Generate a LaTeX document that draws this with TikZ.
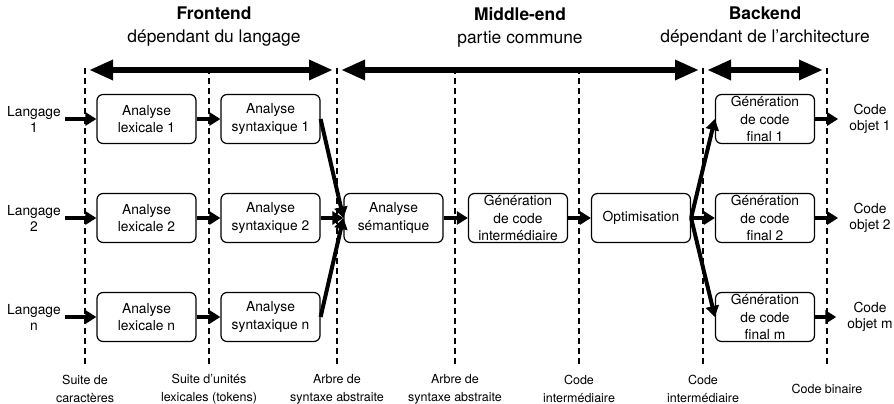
\documentclass[tikz,border=0pt]{standalone}
\usepackage{fontspec}
\setmainfont{TeX Gyre Heros}
\usetikzlibrary{positioning,arrows.meta}
\tikzset{
    stage/.style={
        draw,
        line width=1.2pt,
        rounded corners=6pt,
        align=center,
        font=\fontsize{13.8}{17.5}\selectfont,
        inner sep=0pt,
        minimum width=99pt,
        minimum height=49pt
    },
    phasetitle/.style={
        align=center,
        font=\fontsize{17.4}{23}\selectfont
    },
    inlabel/.style={
        align=center,
        font=\fontsize{13.8}{16}\selectfont,
        inner sep=4pt
    },
    outlabel/.style={
        align=center,
        font=\fontsize{13.8}{16}\selectfont,
        inner xsep=11pt
    },
    datalabel/.style={
        align=center,
        font=\fontsize{12.5}{18}\selectfont
    },
    separator/.style={
        dash pattern=on 6pt off 4pt,
        line width=1.2pt
    },
    flow/.style={
        line width=4pt,
        -{Triangle[length=11pt,width=13pt]}
    },
    phase/.style={
        line width=6pt,
        {Triangle[length=24pt,width=19pt]}-{Triangle[length=24pt,width=19pt]},
        shorten <=4pt,
        shorten >=4pt
    }
}

\begin{document}
\begin{tikzpicture}[x=1pt,y=-1pt]

\useasboundingbox (0,0) rectangle (894,404);

% Phase titles
\node[phasetitle] (fronttitle) at (214,27)
{\textbf{Frontend}\\dépendant du langage};

\node[phasetitle] (middletitle) at (520,27)
{\textbf{Middle-end}\\partie commune};

\node[phasetitle] (backtitle) at (765,27)
{\textbf{Backend}\\dépendant de l’architecture};

% Separators
\coordinate (sepA top) at (85,68);
\coordinate (sepA bot) at (85,366);
\coordinate (sepB top) at (209,68);
\coordinate (sepB bot) at (209,366);
\coordinate (sepC top) at (337,68);
\coordinate (sepC bot) at (337,366);
\coordinate (sepD top) at (455,68);
\coordinate (sepD bot) at (455,366);
\coordinate (sepE top) at (579,68);
\coordinate (sepE bot) at (579,366);
\coordinate (sepF top) at (703,68);
\coordinate (sepF bot) at (703,366);
\coordinate (sepG top) at (827,68);
\coordinate (sepG bot) at (827,366);

\draw[separator] (sepA top) -- (sepA bot);
\draw[separator] (sepB top) -- (sepB bot);
\draw[separator] (sepC top) -- (sepC bot);
\draw[separator] (sepD top) -- (sepD bot);
\draw[separator] (sepE top) -- (sepE bot);
\draw[separator] (sepF top) -- (sepF bot);
\draw[separator] (sepG top) -- (sepG bot);

\draw[phase] ([yshift=-2pt]sepA top) -- ([yshift=-2pt]sepC top);
\draw[phase] ([yshift=-2pt]sepC top) -- ([yshift=-2pt]sepF top);
\draw[phase] ([yshift=-2pt]sepF top) -- ([yshift=-2pt]sepG top);


% ------------------------------------------------------------
% Frontend
% ------------------------------------------------------------

\node[inlabel] (lang1) at (34,119) {Langage\\1};
\node[inlabel] (lang2) at (34,218) {Langage\\2};
\node[inlabel] (langn) at (34,317) {Langage\\n};

\node[stage] (lex1) at (146.5,119) {Analyse\\lexicale 1};
\node[stage] (lex2) at (146.5,218) {Analyse\\lexicale 2};
\node[stage] (lexn) at (146.5,317) {Analyse\\lexicale n};

\node[stage] (syn1) at (270.5,119) {Analyse\\syntaxique 1};
\node[stage] (syn2) at (270.5,218) {Analyse\\syntaxique 2};
\node[stage] (synn) at (270.5,317) {Analyse\\syntaxique n};

\draw[flow] (lang1) -- (lex1);
\draw[flow] (lang2) -- (lex2);
\draw[flow] (langn) -- (lexn);

\draw[flow] (lex1) -- (syn1);
\draw[flow] (lex2) -- (syn2);
\draw[flow] (lexn) -- (synn);


% ------------------------------------------------------------
% Middle-end
% ------------------------------------------------------------

\node[stage] (sem) at (393.5,218) {Analyse\\sémantique};
\node[stage] (genint) at (518,218) {Génération\\de code\\intermédiaire};
\node[stage] (opt) at (641,218) {Optimisation};

\draw[flow] (syn1.east) -- (sem.west);
\draw[flow] (syn2.east) -- (sem.west);
\draw[flow] (synn.east) -- (sem.west);

\draw[flow] (sem) -- (genint);
\draw[flow] (genint) -- (opt);


% ------------------------------------------------------------
% Backend
% ------------------------------------------------------------

\node[stage] (final1) at (765,119) {Génération\\de code\\final 1};
\node[stage] (final2) at (765,218) {Génération\\de code\\final 2};
\node[stage] (finalm) at (765,317) {Génération\\de code\\final m};

\node[outlabel] (obj1) at (870,119) {Code\\objet 1};
\node[outlabel] (obj2) at (870,218) {Code\\objet 2};
\node[outlabel] (objm) at (870,317) {Code\\objet m};

\draw[flow] (opt.east) -- (final1.west);
\draw[flow] (opt.east) -- (final2.west);
\draw[flow] (opt.east) -- (finalm.west);

\draw[flow] (final1) -- (obj1);
\draw[flow] (final2) -- (obj2);
\draw[flow] (finalm) -- (objm);


% Data between the phases
\node[datalabel] (chars) at (85,389) {Suite de\\caractères};
\node[datalabel] (tokens) at (209,389) {Suite d’unités\\lexicales (tokens)};
\node[datalabel] (ast1) at (337,389) {Arbre de\\syntaxe abstraite};
\node[datalabel] (ast2) at (455,389) {Arbre de\\syntaxe abstraite};
\node[datalabel] (ir1) at (579,389) {Code\\intermédiaire};
\node[datalabel] (ir2) at (703,389) {Code\\intermédiaire};
\node[datalabel] (bin) at (827,389) {Code binaire};

\end{tikzpicture}
\end{document}
